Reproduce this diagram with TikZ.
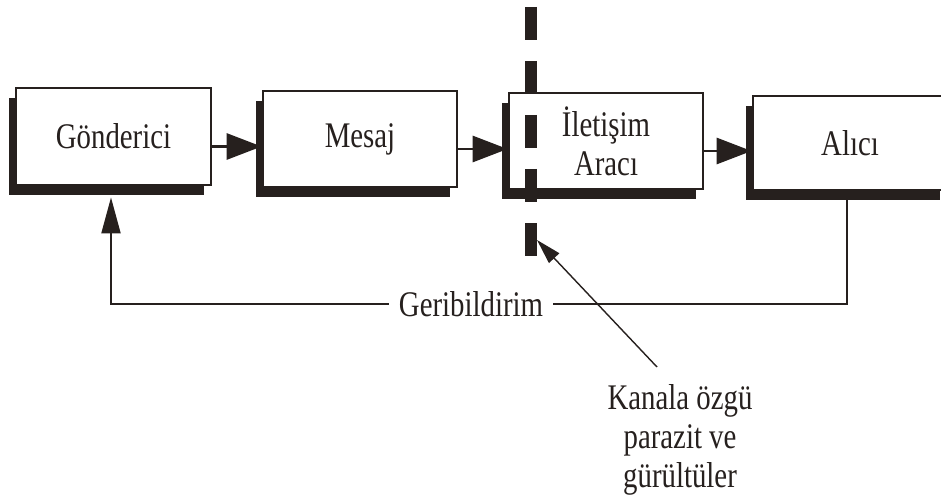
\documentclass[tikz,border=0pt]{standalone}
\usepackage{fontspec}
\setmainfont{Liberation Serif}[FakeStretch=0.8]
\usepackage{tikz}
\usetikzlibrary{arrows.meta,shadows}
\definecolor{ink}{RGB}{38,32,30}
\tikzset{
    box/.style={draw=ink, line width=1.6pt, fill=white, text=ink,
        minimum width=3.88cm, minimum height=1.92cm, align=center,
        font=\fontsize{20.5}{22}\selectfont,
        drop shadow={shadow xshift=-0.14cm, shadow yshift=-0.2cm, fill=ink, opacity=1}},
    txt/.style={font=\fontsize{20.5}{22}\selectfont, text=ink, inner sep=2pt},
    flow/.style={ink, line width=1.7pt, -{Triangle[length=0.7cm, width=0.52cm]}},
    back/.style={ink, line width=1.1pt},
    barrier/.style={ink, line width=0.24cm, dash pattern=on 0.66cm off 0.42cm},
}

\begin{document}
\begin{tikzpicture}
\clip (0,0) rectangle (18.82,10.04);
\node[box, minimum width=3.9cm, minimum height=1.94cm] (gon) at (2.27,7.31) {Gönderici};
\node[box] (mes) at (7.2,7.26) {Mesaj};
\node[box] (ile) at (12.12,7.22) {İletişim\\Aracı};
\node[box, minimum height=1.88cm] (ali) at (17.0,7.18) {Alıcı};
\draw[flow] ([yshift=-0.2cm]gon.east) -- ([yshift=-0.2cm]gon.east -| mes.west);
\draw[flow] ([yshift=-0.2cm]mes.east) -- ([yshift=-0.2cm]mes.east -| ile.west);
\draw[flow] ([yshift=-0.2cm]ile.east) -- ([yshift=-0.2cm]ile.east -| ali.west);
\node[txt, fill=white, inner xsep=0.2cm] (fb) at (9.42,3.96) {Geribildirim};
\draw[back] ([xshift=-0.06cm]ali.south) |- (fb.east);
\draw[back, -{Triangle[length=0.72cm, width=0.38cm]}] (fb.west) -| ([xshift=-0.05cm,yshift=-0.22cm]gon.south);
\draw[barrier] (10.62,9.9) -- (10.62,4.92);
\node[txt, align=center, anchor=north] (noise) at (13.6,2.42) {Kanala özgü\\parazit ve\\gürültüler};
\coordinate (hit) at (10.74,5.24);
\draw[ink, line width=0.8pt, -{Triangle[length=0.5cm, width=0.28cm]}] ([xshift=-0.46cm,yshift=0.28cm]noise.north) -- (hit);
\end{tikzpicture}
\end{document}
